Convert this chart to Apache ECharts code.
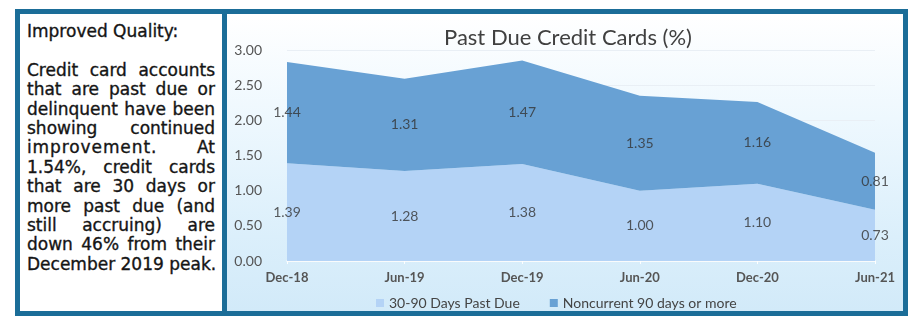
<!DOCTYPE html>
<html>
<head>
<meta charset="utf-8">
<script src="https://cdn.jsdelivr.net/npm/echarts@6/dist/echarts.min.js"></script>
<style>
  html, body { margin: 0; padding: 0; background: #ffffff; }
  #page { position: relative; width: 922px; height: 326px; overflow: hidden; }
  #frame {
    position: absolute; left: 15px; top: 9px; width: 893px; height: 307px;
    box-sizing: border-box; border: 5px solid #1b6d98;
  }
  #divider { position: absolute; left: 222px; top: 9px; width: 5px; height: 307px; background: #1b6d98; }
  #panel {
    position: absolute; left: 227px; top: 14px; width: 676px; height: 297px;
    background: linear-gradient(to bottom, #ffffff 0%, #eef8fe 35%, #dbeffb 75%, #d2eaf9 100%);
  }
  #note {
    position: absolute; left: 27px; top: 22px; width: 188px;
    font-family: "DejaVu Sans", Verdana, sans-serif; font-size: 17px; line-height: 19.4px;
    color: #151515; -webkit-text-stroke: 0.35px #151515;
  }
  #note .j { text-align: justify; text-align-last: justify; white-space: nowrap; }
  #note .l { text-align: left; white-space: nowrap; }
  #chart { position: absolute; left: 0; top: 0; width: 922px; height: 326px; }
</style>
</head>
<body>
<div id="page">
  <div id="panel"></div>
  <div id="frame"></div>
  <div id="divider"></div>
  <div id="note">
    <div class="l">Improved Quality:</div>
    <div class="l">&nbsp;</div>
    <div class="j">Credit card accounts</div>
    <div class="j">that are past due or</div>
    <div class="j">delinquent have been</div>
    <div class="j">showing continued</div>
    <div class="j"><span style="letter-spacing:0.9px">improvement.</span> At</div>
    <div class="j">1.54%, credit cards</div>
    <div class="j">that are 30 days or</div>
    <div class="j">more past due (and</div>
    <div class="j">still accruing) are</div>
    <div class="j">down 46% from their</div>
    <div class="l">December 2019 peak.</div>
  </div>
  <div id="chart"></div>
</div>
<script>
// Reporting periods and past-due rates (%)
const categories = ['Dec-18', 'Jun-19', 'Dec-19', 'Jun-20', 'Dec-20', 'Jun-21'];
const pastDue30to90 = [1.39, 1.28, 1.38, 1.00, 1.10, 0.73];
const noncurrent90Plus = [1.44, 1.31, 1.47, 1.35, 1.16, 0.81];
const yTicks = [0, 0.5, 1.0, 1.5, 2.0, 2.5, 3.0];

const seriesNames = ['30-90 Days Past Due', 'Noncurrent 90 days or more'];
const lowerColor = '#b4d3f6';
const upperColor = '#68a1d4';
const font = 'Lato, "Open Sans", sans-serif';

// Value labels sit in the middle of each stacked band
const lowerLabels = pastDue30to90.map((v, i) => [i, v / 2, v]);
const upperLabels = noncurrent90Plus.map((v, i) => [i, pastDue30to90[i] + v / 2, v]);

const labelSeries = (data) => ({
  type: 'scatter',
  data: data,
  symbolSize: 0,
  silent: true,
  z: 5,
  label: {
    show: true,
    position: 'inside',
    formatter: (p) => p.data[2].toFixed(2),
    color: '#333333',
    fontSize: 14,
    fontFamily: font
  }
});

const chart = echarts.init(document.getElementById('chart'), null, { renderer: 'canvas' });
chart.setOption({
  backgroundColor: 'transparent',
  animation: false,
  title: {
    text: 'Past Due Credit Cards (%)',
    left: 563,
    top: 22,
    textAlign: 'center',
    textStyle: { color: '#404040', fontSize: 22, fontWeight: 'normal', fontFamily: font }
  },
  legend: {
    data: seriesNames,
    left: 371,
    top: 291,
    icon: 'rect',
    itemWidth: 8,
    itemHeight: 8,
    itemGap: 30,
    textStyle: { color: '#444444', fontSize: 14, fontFamily: font }
  },
  grid: { left: 287, right: 47, top: 50, bottom: 65, containLabel: false },
  xAxis: {
    type: 'category',
    boundaryGap: false,
    data: categories,
    axisLine: { lineStyle: { color: 'rgba(255,255,255,0.95)', width: 1.5 } },
    axisTick: { show: true, length: 3, lineStyle: { color: 'rgba(255,255,255,0.95)' } },
    axisLabel: { margin: 10, color: '#555555', fontSize: 13, fontWeight: 'bold', fontFamily: font }
  },
  yAxis: {
    type: 'value',
    min: yTicks[0],
    max: yTicks[yTicks.length - 1],
    interval: yTicks[1] - yTicks[0],
    axisLine: { show: false },
    axisTick: { show: false },
    splitLine: { lineStyle: { color: '#e9eff5', width: 1 } },
    axisLabel: {
      margin: 25,
      color: '#555555',
      fontSize: 14,
      fontFamily: font,
      formatter: (v) => v.toFixed(2)
    }
  },
  series: [
    {
      name: seriesNames[0],
      type: 'line',
      stack: 'total',
      data: pastDue30to90,
      symbol: 'none',
      color: lowerColor,
      lineStyle: { width: 0 },
      areaStyle: { color: lowerColor, opacity: 1 },
      z: 2
    },
    {
      name: seriesNames[1],
      type: 'line',
      stack: 'total',
      data: noncurrent90Plus,
      symbol: 'none',
      color: upperColor,
      lineStyle: { width: 0 },
      areaStyle: { color: upperColor, opacity: 1 },
      z: 2
    },
    labelSeries(lowerLabels),
    labelSeries(upperLabels)
  ]
});
</script>
</body>
</html>
